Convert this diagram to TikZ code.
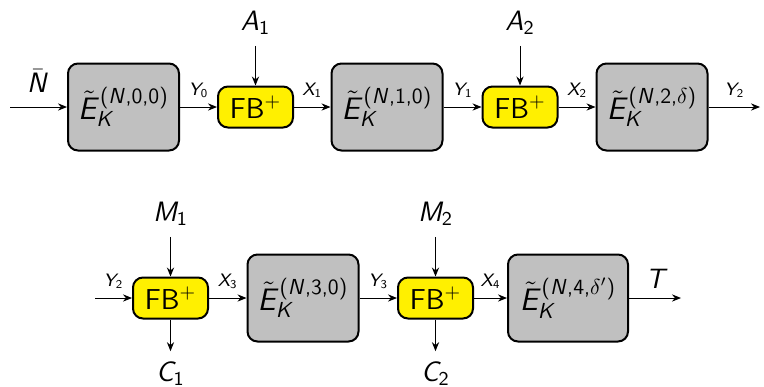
\documentclass[tikz,border=0pt]{standalone}
\usepackage{fix-cm}
\usetikzlibrary{arrows.meta}

% sans-serif math letters, digits and delimiters (Computer Modern Sans)
\DeclareSymbolFont{sfletters}{OT1}{cmss}{m}{sl}
\DeclareSymbolFont{sfdigits}{OT1}{cmss}{m}{n}
\DeclareMathSymbol{A}{\mathalpha}{sfletters}{`A}
\DeclareMathSymbol{C}{\mathalpha}{sfletters}{`C}
\DeclareMathSymbol{E}{\mathalpha}{sfletters}{`E}
\DeclareMathSymbol{K}{\mathalpha}{sfletters}{`K}
\DeclareMathSymbol{M}{\mathalpha}{sfletters}{`M}
\DeclareMathSymbol{N}{\mathalpha}{sfletters}{`N}
\DeclareMathSymbol{T}{\mathalpha}{sfletters}{`T}
\DeclareMathSymbol{X}{\mathalpha}{sfletters}{`X}
\DeclareMathSymbol{Y}{\mathalpha}{sfletters}{`Y}
\DeclareMathSymbol{0}{\mathalpha}{sfdigits}{`0}
\DeclareMathSymbol{1}{\mathalpha}{sfdigits}{`1}
\DeclareMathSymbol{2}{\mathalpha}{sfdigits}{`2}
\DeclareMathSymbol{3}{\mathalpha}{sfdigits}{`3}
\DeclareMathSymbol{4}{\mathalpha}{sfdigits}{`4}
\DeclareMathSymbol{+}{\mathbin}{sfdigits}{`+}
\DeclareMathSymbol{,}{\mathpunct}{sfdigits}{`,}
\DeclareMathSymbol{(}{\mathopen}{sfdigits}{`(}
\DeclareMathSymbol{)}{\mathclose}{sfdigits}{`)}

\definecolor{boxgray}{RGB}{192,192,192}
\definecolor{fbyellow}{RGB}{255,240,0}

\tikzset{
  ebox/.style={draw, line width=1pt, rounded corners=5pt, fill=boxgray,
    minimum width=55.5pt, minimum height=43.5pt, inner sep=1pt,
    font=\fontsize{15.5}{17}\selectfont},
  fbbox/.style={draw, line width=1pt, rounded corners=5pt, fill=fbyellow,
    minimum width=37.5pt, minimum height=20.5pt, inner sep=1pt,
    font=\fontsize{14.4}{16}\selectfont\sffamily},
  sig/.style={-{Stealth[length=4.5pt,width=3.6pt]}, line width=0.5pt},
  lab/.style={font=\small, inner sep=1pt},
  io/.style={font=\fontsize{14}{16}\selectfont, inner sep=1pt, outer sep=4.5pt},
}

\begin{document}
\begin{tikzpicture}[x=0.5pt,y=-0.5pt]
  \useasboundingbox (0,0) rectangle (764,386);

  % first chain
  \coordinate (in0) at (10,107);
  \node[ebox]  (e0) at (123.5,107) {$\tilde{E}_K^{(N,0,0)}$};
  \node[fbbox] (f1) at (255.5,107) {FB$^{+}$};
  \node[ebox]  (e1) at (387,107)   {$\tilde{E}_K^{(N,1,0)}$};
  \node[fbbox] (f2) at (520,107)   {FB$^{+}$};
  \node[ebox]  (e2) at (652,107)   {$\tilde{E}_K^{(N,2,\delta)}$};
  \coordinate (out0) at (760,107);

  \node[io] (nbar) at (38,81) {$\bar{N}$};
  \node[io] (a1) at (255.5,23) {$A_1$};
  \node[io] (a2) at (520,23)   {$A_2$};

  \draw[sig] (in0) -- (e0);
  \draw[sig] (e0) -- node[lab,above=3.5pt] {$Y_0$} (f1);
  \draw[sig] (f1) -- node[lab,above=3.5pt] {$X_1$} (e1);
  \draw[sig] (e1) -- node[lab,above=3.5pt] {$Y_1$} (f2);
  \draw[sig] (f2) -- node[lab,above=3.5pt] {$X_2$} (e2);
  \draw[sig] (e2) -- node[lab,above=3.5pt] {$Y_2$} (out0);
  \draw[sig] (a1) -- (f1);
  \draw[sig] (a2) -- (f2);

  % second chain
  \coordinate (in1) at (95,298);
  \node[fbbox] (f3) at (170.5,298) {FB$^{+}$};
  \node[ebox]  (e3) at (303,298)   {$\tilde{E}_K^{(N,3,0)}$};
  \node[fbbox] (f4) at (435.5,298) {FB$^{+}$};
  \node[ebox, minimum width=60pt] (e4) at (568,298) {$\tilde{E}_K^{(N,4,\delta')}$};
  \coordinate (out1) at (681,298);

  \node[io] (m1) at (170.5,214) {$M_1$};
  \node[io] (m2) at (435.5,214) {$M_2$};
  \node[io] (c1) at (170.5,374) {$C_1$};
  \node[io] (c2) at (435.5,374) {$C_2$};
  \node[io] (tt) at (657,279)   {$T$};

  \draw[sig] (in1) -- node[lab,above=3.5pt] {$Y_2$} (f3);
  \draw[sig] (f3) -- node[lab,above=3.5pt] {$X_3$} (e3);
  \draw[sig] (e3) -- node[lab,above=3.5pt] {$Y_3$} (f4);
  \draw[sig] (f4) -- node[lab,above=3.5pt] {$X_4$} (e4);
  \draw[sig] (e4) -- (out1);
  \draw[sig] (m1) -- (f3);
  \draw[sig] (m2) -- (f4);
  \draw[sig] (f3) -- (c1);
  \draw[sig] (f4) -- (c2);
\end{tikzpicture}
\end{document}
